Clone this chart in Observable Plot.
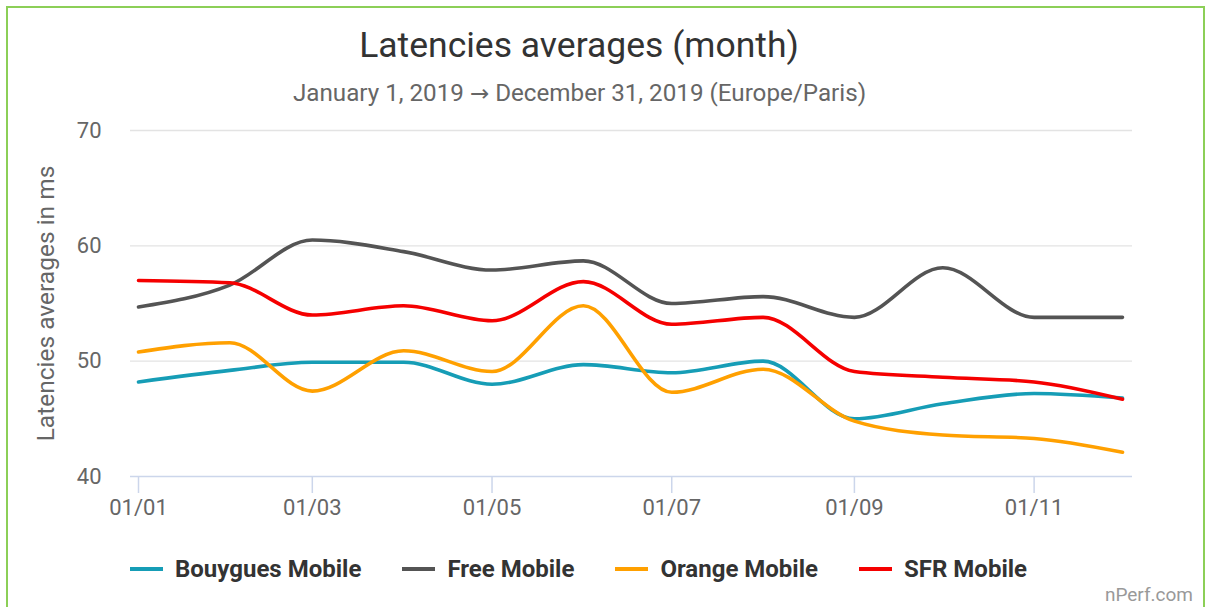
<!DOCTYPE html>
<html>
<head>
<meta charset="utf-8">
<script src="https://cdn.jsdelivr.net/npm/d3@7"></script>
<script src="https://cdn.jsdelivr.net/npm/@observablehq/plot@0.6"></script>
<style>
  html, body { margin: 0; padding: 0; background: #fff; overflow: hidden; }
  body { width: 1211px; height: 607px; position: relative; font-family: Roboto, "Noto Sans", sans-serif; }
  #frame { position: absolute; left: 6px; top: 6px; width: 1199px; height: 700px; border: 2px solid #8ccf57; box-sizing: border-box; }
  #chart { position: absolute; left: 0; top: 0; }
  #title { position: absolute; left: 0; width: 1158px; top: 22px; line-height: 46px; text-align: center; font-size: 35.5px; color: #333; }
  #subtitle { position: absolute; left: 0; width: 1159px; top: 79px; line-height: 28px; text-align: center; font-size: 24.2px; color: #666; }
  #subtitle .arr { font-family: "DejaVu Sans", sans-serif; font-size: 23px; }
  #legend { position: absolute; left: 130px; top: 555px; display: flex; gap: 41px; align-items: center; }
  .item { display: flex; align-items: center; font-weight: bold; font-size: 24px; color: #333; line-height: 28px; }
  .sw { width: 33px; height: 4px; margin-right: 12px; }
  #credit { position: absolute; right: 18px; top: 583px; font-size: 19px; color: #999; line-height: 24px; }
</style>
</head>
<body>
<div id="frame"></div>
<div id="chart"></div>
<div id="title"></div>
<div id="subtitle"></div>
<div id="legend"></div>
<div id="credit"></div>
<script>
const titleText = "Latencies averages (month)";
const subtitleText = "January 1, 2019 → December 31, 2019 (Europe/Paris)";
const yLabel = "Latencies averages in ms";
const creditText = "nPerf.com";

const months = ["2019-01-01","2019-02-01","2019-03-01","2019-04-01","2019-05-01","2019-06-01",
                "2019-07-01","2019-08-01","2019-09-01","2019-10-01","2019-11-01","2019-12-01"];
const seriesNames = ["Bouygues Mobile", "Free Mobile", "Orange Mobile", "SFR Mobile"];
const seriesColors = ["#169db6", "#545454", "#ffa000", "#f50000"];

const bouygues = [48.2, 49.2, 49.9, 49.9, 48.0, 49.7, 49.0, 50.0, 45.0, 46.3, 47.2, 46.8];
const free     = [54.7, 56.6, 60.5, 59.5, 57.9, 58.7, 55.0, 55.6, 53.8, 58.1, 53.8, 53.8];
const orange   = [50.8, 51.6, 47.4, 50.9, 49.1, 54.8, 47.3, 49.3, 44.8, 43.6, 43.3, 42.1];
const sfr      = [57.0, 56.8, 54.0, 54.8, 53.5, 56.9, 53.2, 53.8, 49.1, 48.6, 48.2, 46.7];

const yTicks = [40, 50, 60, 70];
const xTickMonths = ["2019-01-01","2019-03-01","2019-05-01","2019-07-01","2019-09-01","2019-11-01"];

const seriesValues = [bouygues, free, orange, sfr];
const data = [];
seriesNames.forEach((name, i) => {
  months.forEach((m, j) => data.push({series: name, date: new Date(m), value: seriesValues[i][j]}));
});
const xTicks = xTickMonths.map(d => new Date(d));
const fmt = d => "01/" + String(d.getUTCMonth() + 1).padStart(2, "0");

const plot = Plot.plot({
  width: 1211,
  height: 607,
  marginTop: 130,
  marginBottom: 131,
  marginLeft: 130,
  marginRight: 79,
  style: {fontFamily: "Roboto, sans-serif", background: "transparent", overflow: "visible"},
  x: {type: "utc", domain: [new Date(months[0]), new Date(months[months.length - 1])], insetLeft: 8, insetRight: 10},
  y: {domain: [40, 70]},
  color: {domain: seriesNames, range: seriesColors},
  marks: [
    Plot.ruleY(yTicks.filter(d => d > 40), {stroke: "#e3e3e3", strokeWidth: 1.4}),
    Plot.ruleY([40], {stroke: "#ccd6eb", strokeWidth: 1.6}),
    Plot.axisY({ticks: yTicks, tickSize: 0, tickPadding: 29, fontSize: 22, fill: "#666", label: null}),
    Plot.axisX({ticks: xTicks, tickFormat: fmt, tickSize: 17, tickPadding: 6, fontSize: 22, fill: "#666", stroke: "#ccd6eb", strokeWidth: 1.5, label: null}),
    Plot.line(data, {x: "date", y: "value", z: "series", stroke: "series", curve: "monotone-x", strokeWidth: 3.6}),
    Plot.text([yLabel], {text: d => d, frameAnchor: "left", dx: -84, rotate: -90, textAnchor: "middle", fontSize: 24.5, fill: "#666"})
  ]
});
document.getElementById("chart").appendChild(plot);

document.getElementById("title").textContent = titleText;
const sub = document.getElementById("subtitle");
subtitleText.split("→").forEach((part, i) => {
  if (i > 0) {
    const a = document.createElement("span");
    a.className = "arr";
    a.textContent = "→";
    sub.appendChild(a);
  }
  sub.appendChild(document.createTextNode(part));
});
document.getElementById("credit").textContent = creditText;
const legend = document.getElementById("legend");
seriesNames.forEach((name, i) => {
  const item = document.createElement("div");
  item.className = "item";
  const sw = document.createElement("span");
  sw.className = "sw";
  sw.style.background = seriesColors[i];
  const label = document.createElement("span");
  label.textContent = name;
  item.appendChild(sw);
  item.appendChild(label);
  legend.appendChild(item);
});
</script>
</body>
</html>
